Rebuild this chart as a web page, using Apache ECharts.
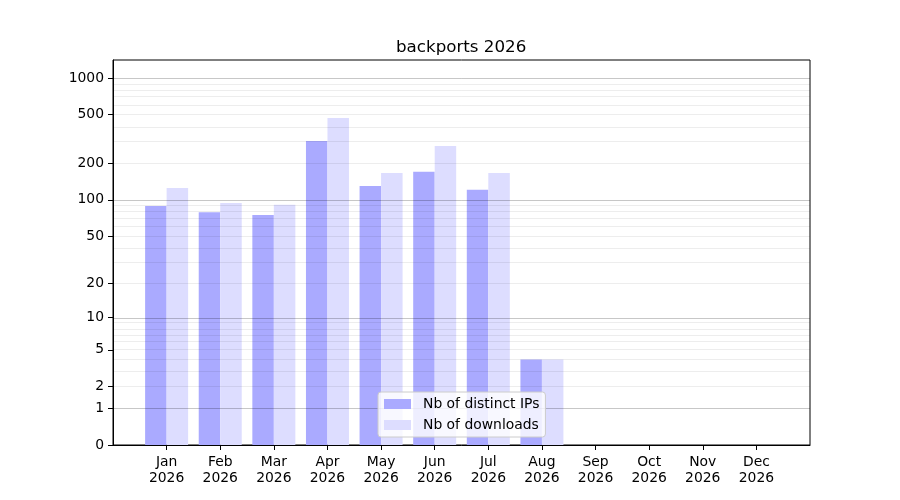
<!DOCTYPE html>
<html>
<head>
<meta charset="utf-8">
<script src="https://cdn.jsdelivr.net/npm/echarts@6/dist/echarts.min.js"></script>
<style>
  html, body { margin: 0; padding: 0; background: #fff; }
  #chart { width: 900px; height: 500px; }
</style>
</head>
<body>
<div id="chart"></div>
<script>
// data
var months = ['Jan', 'Feb', 'Mar', 'Apr', 'May', 'Jun', 'Jul', 'Aug', 'Sep', 'Oct', 'Nov', 'Dec'];
var year = '2026';
var distinctIPs = [89, 79, 75, 305, 130, 170, 121, 4, 0, 0, 0, 0];
var downloads = [125, 94, 91, 470, 166, 277, 166, 4, 0, 0, 0, 0];
var yTicks = [0, 1, 2, 5, 10, 20, 50, 100, 200, 500, 1000];
var majorGrid = [1, 10, 100, 1000];
var minorGrid = [2, 3, 4, 5, 6, 7, 8, 9, 20, 30, 40, 50, 60, 70, 80, 90,
                 200, 300, 400, 500, 600, 700, 800, 900];

// y scale is log10(1 + v)
function fwd(v) { return Math.log10(1 + v); }
function back(t) { return Math.round(Math.pow(10, t) - 1); }

var idx = months.map(function (m, i) { return i; });
var font = 'DejaVu Sans';

var gridLines = majorGrid.map(function (v) {
    return { yAxis: fwd(v), lineStyle: { color: 'rgba(0,0,0,0.22)', width: 1, type: 'solid' } };
}).concat(minorGrid.map(function (v) {
    return { yAxis: fwd(v), lineStyle: { color: 'rgba(0,0,0,0.07)', width: 1, type: 'solid' } };
}));

var myChart = echarts.init(document.getElementById('chart'), null, { renderer: 'canvas' });
myChart.setOption({
    animation: false,
    textStyle: { fontFamily: font },
    title: {
        text: 'backports ' + year,
        left: 391,
        top: 34,
        textStyle: { fontFamily: font, fontSize: 16.7, fontWeight: 'normal', color: '#000' }
    },
    legend: {
        orient: 'vertical',
        left: 378,
        top: 392,
        z: 10,
        padding: [5, 6, 5, 6],
        itemGap: 7,
        itemWidth: 27,
        itemHeight: 10,
        icon: 'rect',
        backgroundColor: 'rgba(255,255,255,0.8)',
        borderColor: '#cccccc',
        borderWidth: 1,
        borderRadius: 3,
        textStyle: { fontFamily: font, fontSize: 13.9, color: '#000', lineHeight: 14, padding: [0, 0, 0, 7] },
        data: ['Nb of distinct IPs', 'Nb of downloads']
    },
    grid: {
        left: 113, right: 90, top: 60, bottom: 55,
        show: true, borderColor: '#000', borderWidth: 1, backgroundColor: 'transparent'
    },
    xAxis: {
        type: 'value',
        min: -1,
        max: 12,
        interval: 1,
        splitLine: { show: false },
        axisLine: { show: true, onZero: false, lineStyle: { color: '#000', width: 1 } },
        axisTick: { show: true, customValues: idx, length: 5, lineStyle: { color: '#000' } },
        axisLabel: {
            customValues: idx,
            margin: 9,
            fontFamily: font,
            fontSize: 13.9,
            lineHeight: 16,
            color: '#000',
            formatter: function (v) { return months[v] ? months[v] + '\n' + year : ''; }
        }
    },
    yAxis: {
        type: 'value',
        min: 0,
        max: 3.147,
        splitLine: { show: false },
        axisLine: { show: true, onZero: false, lineStyle: { color: '#000', width: 1 } },
        axisTick: { show: true, customValues: yTicks.map(fwd), length: 5, lineStyle: { color: '#000', width: 1 } },
        axisLabel: {
            customValues: yTicks.map(fwd),
            margin: 9,
            fontFamily: font,
            fontSize: 13.9,
            color: '#000',
            padding: [5, 0, 0, 0],
            formatter: function (t) { return String(back(t)); }
        }
    },
    series: [
        {
            name: 'Nb of distinct IPs',
            type: 'bar',
            barWidth: 21.5,
            barGap: '0%',
            itemStyle: { color: '#aaaaff' },
            data: distinctIPs.map(function (v, i) { return [i, fwd(v)]; })
        },
        {
            name: 'Nb of downloads',
            type: 'bar',
            barWidth: 21.5,
            barGap: '0%',
            itemStyle: { color: '#ddddff' },
            data: downloads.map(function (v, i) { return [i, fwd(v)]; }),
            markLine: {
                silent: true,
                symbol: 'none',
                label: { show: false },
                z: 5,
                data: gridLines
            }
        }
    ]
});
</script>
</body>
</html>
